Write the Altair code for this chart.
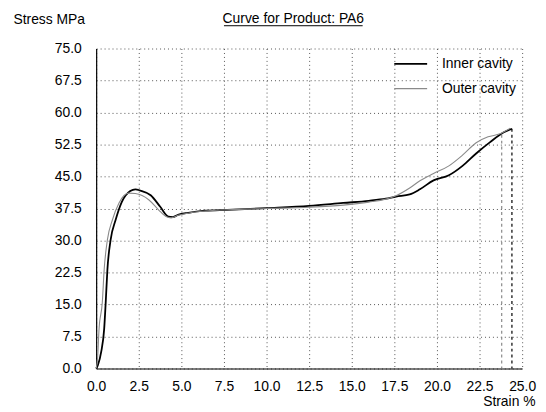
import altair as alt
import pandas as pd

# ---- data ----
inner_strain = [0, 0.1, 0.3, 0.47, 0.56, 0.66, 0.85, 1.14, 1.5, 2.0, 2.3, 2.6, 3.2, 3.76, 4.24, 4.5,
                4.8, 5.4, 6.4, 7.7, 10.0, 12.5, 14.5, 16.0, 17.0, 17.6, 18.4, 19.0, 19.8, 20.7,
                21.5, 22.3, 23.1, 23.9, 24.4]
inner_stress = [0, 0.8, 4.0, 9.3, 15.5, 23.2, 30.2, 34.8, 39.0, 41.6, 42.0, 41.7, 40.6, 37.9, 35.6, 35.5,
                36.0, 36.5, 37.0, 37.2, 37.6, 38.1, 38.8, 39.3, 39.8, 40.3, 40.8, 42.0, 44.1, 45.3,
                47.5, 50.4, 53.0, 55.3, 56.2]

outer_strain = [0, 0.08, 0.17, 0.36, 0.47, 0.66, 0.95, 1.34, 1.9, 2.3, 3.1, 3.66, 4.1, 4.4, 4.8,
                5.4, 6.4, 7.7, 10.0, 12.5, 14.5, 16.0, 17.0, 17.6, 18.4, 19.0, 19.8, 20.7, 21.5,
                22.3, 23.0, 23.7, 24.3]
outer_stress = [0, 2.3, 9.3, 15.5, 23.2, 30.2, 34.8, 38.8, 41.1, 41.0, 39.5, 37.2, 35.6, 35.3, 35.9,
                36.4, 36.9, 37.2, 37.5, 37.8, 38.3, 39.0, 39.7, 40.5, 42.3, 44.0, 45.7, 47.5, 50.0,
                52.9, 54.3, 55.0, 56.3]

series_names = ["Inner cavity", "Outer cavity"]
series_colors = ["#000000", "#8a8a8a"]
break_strain = [24.4, 23.8]
break_stress = [56.2, 54.8]

x_ticks = [0.0, 2.5, 5.0, 7.5, 10.0, 12.5, 15.0, 17.5, 20.0, 22.5, 25.0]
y_ticks = [0.0, 7.5, 15.0, 22.5, 30.0, 37.5, 45.0, 52.5, 60.0, 67.5, 75.0]
title_text = ["Curve for Product: PA6"]

FONT = "Liberation Sans"
FS = 14

df = pd.concat([
    pd.DataFrame({"strain": inner_strain, "stress": inner_stress, "series": series_names[0], "order": range(len(inner_strain))}),
    pd.DataFrame({"strain": outer_strain, "stress": outer_stress, "series": series_names[1], "order": range(len(outer_strain))}),
])
breaks = pd.DataFrame({"strain": break_strain, "stress": break_stress, "zero": [0, 0], "series": series_names})

cscale = alt.Scale(domain=series_names, range=series_colors)
color = alt.Color("series:N", scale=cscale,
                  legend=alt.Legend(title=None, orient="none", legendX=300, legendY=-2,
                                    symbolType="stroke", symbolSize=1100, symbolStrokeWidth=1.8,
                                    labelFont=FONT, labelFontSize=FS, labelColor="#000",
                                    labelOffset=14, rowPadding=-12))

x_axis = alt.Axis(values=x_ticks, format=".1f", title="Strain %", labelFlush=False,
                  labelOverlap=False, titleAngle=0, titleX=443, titleY=33, titleAlign="right",
                  titleBaseline="middle", labelPadding=11)
y_axis = alt.Axis(values=y_ticks, format=".1f", title="Stress MPa", labelFlush=False,
                  labelOverlap=False, titleAngle=0, titleX=-84, titleY=-29, titleAlign="left",
                  titleBaseline="middle", labelPadding=15)
xs = alt.Scale(domain=[0, 25], nice=False)
ys = alt.Scale(domain=[0, 75], nice=False)

lines = alt.Chart(df).mark_line(interpolate="monotone").encode(
    x=alt.X("strain:Q", scale=xs, axis=x_axis),
    y=alt.Y("stress:Q", scale=ys, axis=y_axis),
    color=color, order="order:Q",
    strokeWidth=alt.StrokeWidth("series:N", scale=alt.Scale(domain=series_names, range=[1.8, 1.1]), legend=None),
)

drops = alt.Chart(breaks).mark_rule(strokeDash=[3, 3]).encode(
    x=alt.X("strain:Q", scale=xs, axis=x_axis),
    y=alt.Y("stress:Q", scale=ys, axis=y_axis),
    y2="zero:Q",
    color=alt.Color("series:N", scale=cscale, legend=None),
    strokeWidth=alt.value(1.2),
)

title = alt.Chart(pd.DataFrame({"t": title_text})).mark_text(
    font=FONT, fontSize=FS, color="#000", align="center", baseline="middle"
).encode(text="t:N", x=alt.value(199), y=alt.value(-30))

underline = alt.Chart(pd.DataFrame({"t": title_text})).mark_rule(color="#000", strokeWidth=1).encode(
    x=alt.value(129), x2=alt.value(269), y=alt.value(-23)
)

chart = alt.layer(lines, drops, title, underline).resolve_axis(y="shared", x="shared").properties(
    width=430, height=323,
    autosize=alt.AutoSizeParams(type="none"),
    padding={"left": 89, "top": 39, "right": 16, "bottom": 40},
).configure_view(stroke=None).configure_axis(
    labelFont=FONT, labelFontSize=FS, labelColor="#000",
    titleFont=FONT, titleFontSize=FS, titleFontWeight="normal", titleColor="#000",
    domainColor="#000", domainWidth=1.2, ticks=False,
    grid=True, gridColor="#555", gridDash=[1, 3], gridWidth=1,
)

chart.save("out.html", embed_options={"renderer": "svg", "actions": False})
